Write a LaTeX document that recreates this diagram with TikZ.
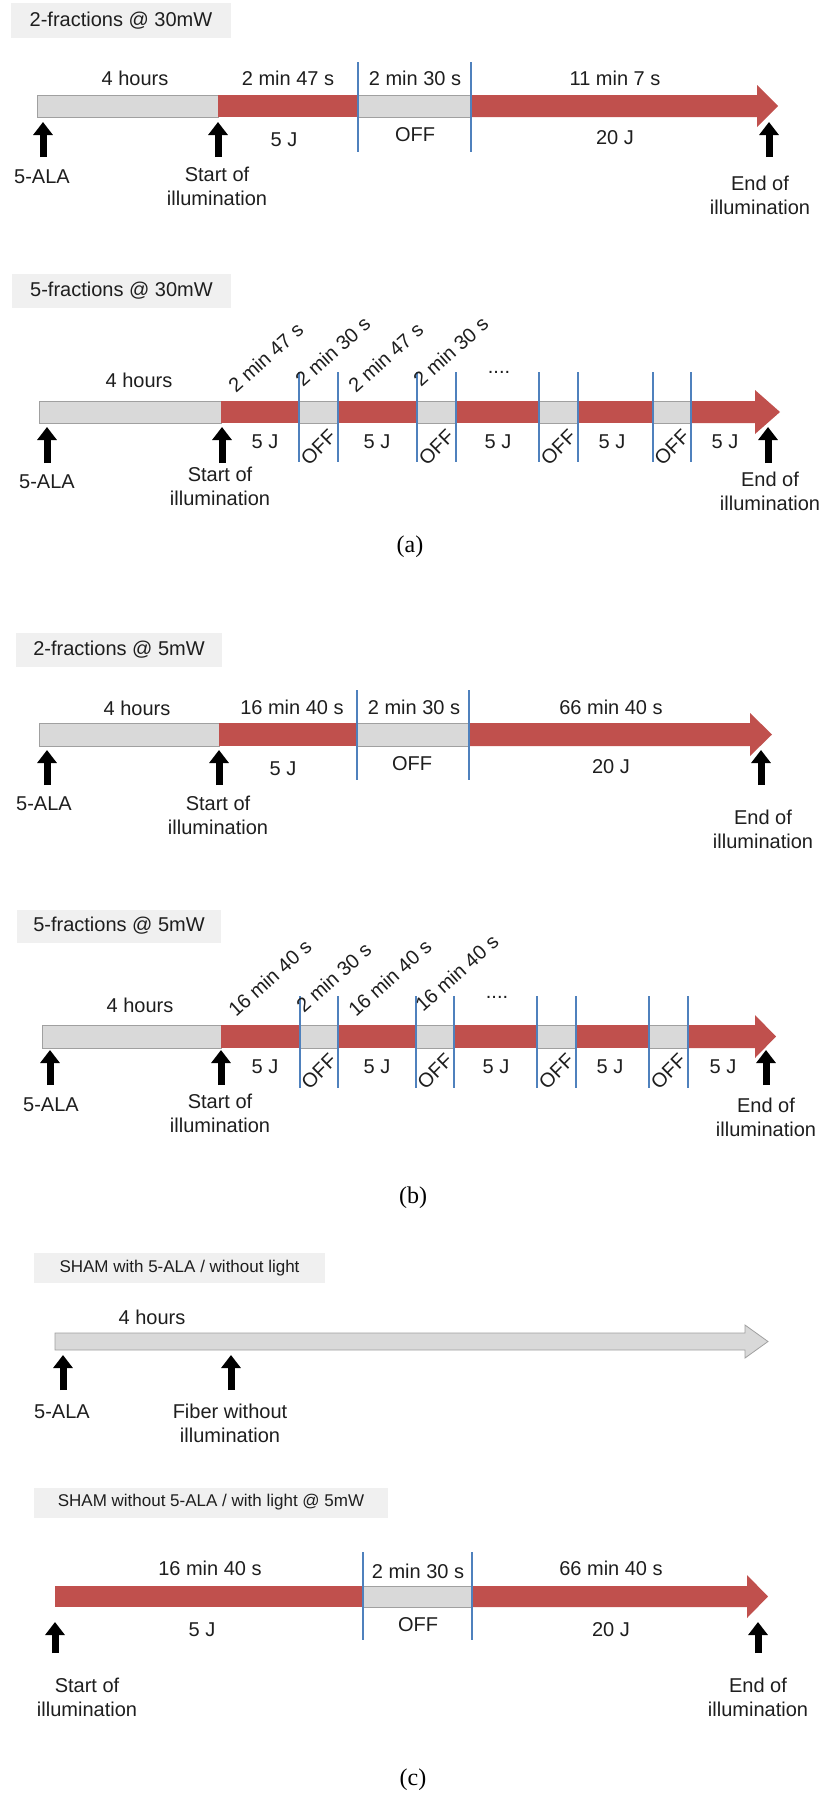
\documentclass[tikz,border=0pt]{standalone}
\usepackage{fontspec}
\setmainfont{Liberation Sans}
\newfontfamily\capfont{Liberation Serif}
\usetikzlibrary{arrows.meta}
\definecolor{barred}{RGB}{192,80,77}
\definecolor{bargray}{RGB}{217,217,217}
\definecolor{barborder}{RGB}{160,160,160}
\definecolor{bline}{RGB}{79,129,189}
\definecolor{titlebg}{RGB}{240,240,240}
\definecolor{txt}{RGB}{30,30,30}
\tikzset{
  lbl/.style={inner sep=0pt, font=\fontsize{20}{24}\selectfont, text=txt},
  two/.style={lbl, align=center},
  ttl/.style={fill=titlebg, inner sep=0pt, text=txt, font=\fontsize{20}{24}\selectfont},
  ttlsmall/.style={ttl, font=\fontsize{17}{20}\selectfont},
  grayseg/.style={fill=bargray, draw=barborder, line width=0.8pt},
  redseg/.style={fill=barred},
  bluel/.style={draw=bline, line width=1.3pt},
  uparrow/.style={draw=black, line width=7pt, -{Triangle[width=19pt,length=13pt]}},
  caplbl/.style={inner sep=0pt, font=\capfont\fontsize{24}{28}\selectfont},
}
\begin{document}
\begin{tikzpicture}[x=1pt,y=-1pt]
\useasboundingbox[fill=white] (0,0) rectangle (822,1794);

% ================= Panel 1: 2-fractions @ 30mW =================
\node[ttl, minimum width=220pt, minimum height=35pt] (t1) at (121,20.5) {2-fractions @ 30mW};
\draw[grayseg] (37,95) rectangle (218,117);
\draw[grayseg] (358,95) rectangle (471,117);
\fill[redseg] (218,95) rectangle (358,117);
\fill[redseg] (471,95) -- (757,95) -- (757,85) -- (778,106) -- (757,127) -- (757,117) -- (471,117) -- cycle;
\draw[bluel] (358,62) -- (358,152);
\draw[bluel] (471,62) -- (471,152);
\node[lbl] (p1h) at (135,78) {4 hours};
\node[lbl] (p1d1) at (288,78) {2 min 47 s};
\node[lbl] (p1d2) at (415,78) {2 min 30 s};
\node[lbl] (p1d3) at (615,78) {11 min 7 s};
\node[lbl] (p1j1) at (284,140) {5 J};
\node[lbl] (p1off) at (415,135) {OFF};
\node[lbl] (p1j2) at (615,138) {20 J};
\coordinate (p1a1b) at (43,157); \coordinate (p1a1t) at (43,122);
\coordinate (p1a2b) at (218,157); \coordinate (p1a2t) at (218,122);
\coordinate (p1a3b) at (769,157); \coordinate (p1a3t) at (769,122);
\draw[uparrow] (p1a1b) -- (p1a1t);
\draw[uparrow] (p1a2b) -- (p1a2t);
\draw[uparrow] (p1a3b) -- (p1a3t);
\node[lbl] (p1ala) at (42,177) {5-ALA};
\node[two] (p1start) at (217,186) {Start of\\illumination};
\node[two] (p1end) at (760,195) {End of\\illumination};

% ================= Panel 2: 5-fractions @ 30mW =================
\node[ttl, minimum width=219pt, minimum height=34pt] (t2) at (121.5,291) {5-fractions @ 30mW};
\draw[grayseg] (39,401) rectangle (221,423);
\foreach \a/\b in {299/338, 417/456, 539/578, 653/691}
  \draw[grayseg] (\a,401) rectangle (\b,423);
\foreach \a/\b in {221/299, 338/417, 456/539, 578/653}
  \fill[redseg] (\a,401) rectangle (\b,423);
\fill[redseg] (691,401) -- (755,401) -- (755,390) -- (780,412) -- (755,434) -- (755,423) -- (691,423) -- cycle;
\foreach \x in {299,338,417,456,539,578,653,691}
  \draw[bluel] (\x,372) -- (\x,462);
\node[lbl] (p2h) at (139,380) {4 hours};
\node[lbl, anchor=base west, rotate=42] (p2d1) at (236,394) {2 min 47 s};
\node[lbl, anchor=base west, rotate=42] (p2d2) at (303,388) {2 min 30 s};
\node[lbl, anchor=base west, rotate=42] (p2d3) at (356,394) {2 min 47 s};
\node[lbl, anchor=base west, rotate=42] (p2d4) at (421,388) {2 min 30 s};
\node[lbl] (p2dots) at (499,372) {....};
\foreach \x/\n in {265/1, 377/2, 498/3, 612/4, 725/5}
  \node[lbl] (p2j\n) at (\x,442) {5 J};
\foreach \x/\n in {318.5/1, 436.5/2, 558.5/3, 672/4}
  \node[lbl, rotate=45] (p2off\n) at (\x,447) {OFF};
\coordinate (p2a1b) at (47,463); \coordinate (p2a1t) at (47,427);
\coordinate (p2a2b) at (222,463); \coordinate (p2a2t) at (222,427);
\coordinate (p2a3b) at (768,463); \coordinate (p2a3t) at (768,427);
\draw[uparrow] (p2a1b) -- (p2a1t);
\draw[uparrow] (p2a2b) -- (p2a2t);
\draw[uparrow] (p2a3b) -- (p2a3t);
\node[lbl] (p2ala) at (47,482) {5-ALA};
\node[two] (p2start) at (220,486) {Start of\\illumination};
\node[two] (p2end) at (770,491) {End of\\illumination};

\node[caplbl] (capa) at (410,547) {(a)};

% ================= Panel 3: 2-fractions @ 5mW =================
\node[ttl, minimum width=206pt, minimum height=34pt] (t3) at (119,650) {2-fractions @ 5mW};
\draw[grayseg] (39,723) rectangle (219,746);
\draw[grayseg] (357,723) rectangle (469,746);
\fill[redseg] (219,723) rectangle (357,746);
\fill[redseg] (469,723) -- (750,723) -- (750,713) -- (772,734.5) -- (750,756) -- (750,746) -- (469,746) -- cycle;
\draw[bluel] (357,690) -- (357,780);
\draw[bluel] (469,690) -- (469,780);
\node[lbl] (p3h) at (137,708) {4 hours};
\node[lbl] (p3d1) at (292,707) {16 min 40 s};
\node[lbl] (p3d2) at (414,707) {2 min 30 s};
\node[lbl] (p3d3) at (611,707) {66 min 40 s};
\node[lbl] (p3j1) at (283,769) {5 J};
\node[lbl] (p3off) at (412,764) {OFF};
\node[lbl] (p3j2) at (611,767) {20 J};
\coordinate (p3a1b) at (47,785); \coordinate (p3a1t) at (47,750);
\coordinate (p3a2b) at (219,785); \coordinate (p3a2t) at (219,750);
\coordinate (p3a3b) at (761,785); \coordinate (p3a3t) at (761,750);
\draw[uparrow] (p3a1b) -- (p3a1t);
\draw[uparrow] (p3a2b) -- (p3a2t);
\draw[uparrow] (p3a3b) -- (p3a3t);
\node[lbl] (p3ala) at (44,804) {5-ALA};
\node[two] (p3start) at (218,815) {Start of\\illumination};
\node[two] (p3end) at (763,829) {End of\\illumination};

% ================= Panel 4: 5-fractions @ 5mW =================
\node[ttl, minimum width=204pt, minimum height=33pt] (t4) at (119,926) {5-fractions @ 5mW};
\draw[grayseg] (42,1025) rectangle (221,1048);
\foreach \a/\b in {300/338, 416/454, 537/576, 649/688}
  \draw[grayseg] (\a,1025) rectangle (\b,1048);
\foreach \a/\b in {221/300, 338/416, 454/537, 576/649}
  \fill[redseg] (\a,1025) rectangle (\b,1048);
\fill[redseg] (688,1025) -- (755,1025) -- (755,1015) -- (776,1036.5) -- (755,1058) -- (755,1048) -- (688,1048) -- cycle;
\foreach \x in {300,338,416,454,537,576,649,688}
  \draw[bluel] (\x,996) -- (\x,1088);
\node[lbl] (p4h) at (140,1005) {4 hours};
\node[lbl, anchor=base west, rotate=42] (p4d1) at (236,1018) {16 min 40 s};
\node[lbl, anchor=base west, rotate=42] (p4d2) at (304,1014) {2 min 30 s};
\node[lbl, anchor=base west, rotate=42] (p4d3) at (356,1018) {16 min 40 s};
\node[lbl, anchor=base west, rotate=42] (p4d4) at (423,1013) {16 min 40 s};
\node[lbl] (p4dots) at (497,997) {....};
\foreach \x/\n in {265/1, 377/2, 496/3, 610/4, 723/5}
  \node[lbl] (p4j\n) at (\x,1067) {5 J};
\foreach \x/\n in {319/1, 435/2, 556.5/3, 668.5/4}
  \node[lbl, rotate=45] (p4off\n) at (\x,1071) {OFF};
\coordinate (p4a1b) at (50,1085); \coordinate (p4a1t) at (50,1050);
\coordinate (p4a2b) at (221,1085); \coordinate (p4a2t) at (221,1050);
\coordinate (p4a3b) at (766,1085); \coordinate (p4a3t) at (766,1050);
\draw[uparrow] (p4a1b) -- (p4a1t);
\draw[uparrow] (p4a2b) -- (p4a2t);
\draw[uparrow] (p4a3b) -- (p4a3t);
\node[lbl] (p4ala) at (51,1105) {5-ALA};
\node[two] (p4start) at (220,1113) {Start of\\illumination};
\node[two] (p4end) at (766,1117) {End of\\illumination};

\node[caplbl] (capb) at (413,1198) {(b)};

% ================= Panel 5: SHAM with 5-ALA / without light =================
\node[ttlsmall, minimum width=291pt, minimum height=30pt] (t5) at (179.5,1268) {SHAM with 5-ALA / without light};
\draw[grayseg] (55,1333) -- (745,1333) -- (745,1325) -- (768,1341.5) -- (745,1358) -- (745,1350) -- (55,1350) -- cycle;
\node[lbl] (p5h) at (152,1317) {4 hours};
\coordinate (p5a1b) at (63,1390); \coordinate (p5a1t) at (63,1355);
\coordinate (p5a2b) at (231,1390); \coordinate (p5a2t) at (231,1355);
\draw[uparrow] (p5a1b) -- (p5a1t);
\draw[uparrow] (p5a2b) -- (p5a2t);
\node[lbl] (p5ala) at (62,1412) {5-ALA};
\node[two] (p5fib) at (230,1423) {Fiber without\\illumination};

% ================= Panel 6: SHAM without 5-ALA / with light @ 5mW =================
\node[ttlsmall, minimum width=354pt, minimum height=30pt] (t6) at (211,1502.5) {SHAM without 5-ALA / with light @ 5mW};
\draw[grayseg] (363,1586) rectangle (472,1607);
\fill[redseg] (55,1586) rectangle (363,1607);
\fill[redseg] (472,1586) -- (747,1586) -- (747,1575) -- (768,1596.5) -- (747,1618) -- (747,1607) -- (472,1607) -- cycle;
\draw[bluel] (363,1552) -- (363,1640);
\draw[bluel] (472,1552) -- (472,1640);
\node[lbl] (p6d1) at (210,1568) {16 min 40 s};
\node[lbl] (p6d2) at (418,1571) {2 min 30 s};
\node[lbl] (p6d3) at (611,1568) {66 min 40 s};
\node[lbl] (p6j1) at (202,1630) {5 J};
\node[lbl] (p6off) at (418,1625) {OFF};
\node[lbl] (p6j2) at (611,1630) {20 J};
\coordinate (p6a1b) at (55,1653); \coordinate (p6a1t) at (55,1622);
\coordinate (p6a2b) at (758,1653); \coordinate (p6a2t) at (758,1622);
\draw[uparrow] (p6a1b) -- (p6a1t);
\draw[uparrow] (p6a2b) -- (p6a2t);
\node[two] (p6start) at (87,1697) {Start of\\illumination};
\node[two] (p6end) at (758,1697) {End of\\illumination};

\node[caplbl] (capc) at (413,1780) {(c)};
\end{tikzpicture}
\end{document}
